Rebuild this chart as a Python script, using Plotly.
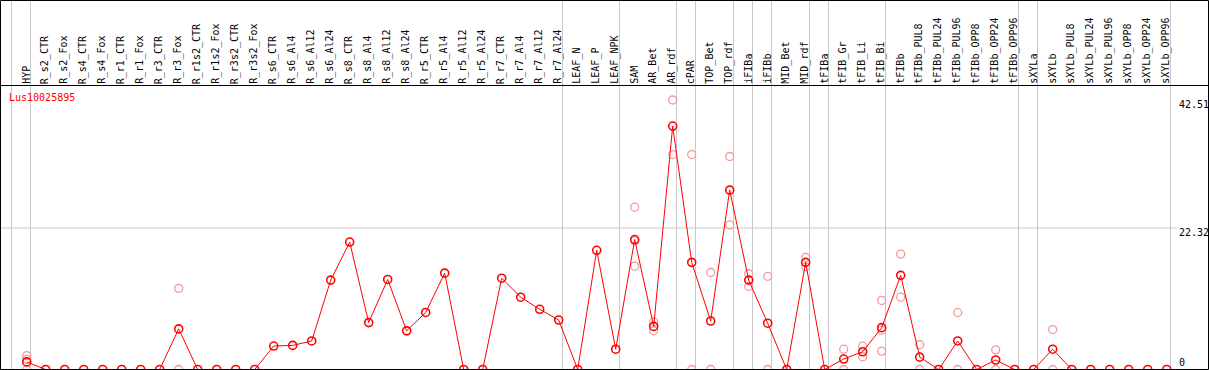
import plotly.graph_objects as go

categories = [
    "HYP", "R_s2_CTR", "R_s2_Fox", "R_s4_CTR", "R_s4_Fox", "R_r1_CTR", "R_r1_Fox",
    "R_r3_CTR", "R_r3_Fox", "R_r1s2_CTR", "R_r1s2_Fox", "R_r3s2_CTR", "R_r3s2_Fox",
    "R_s6_CTR", "R_s6_Al4", "R_s6_Al12", "R_s6_Al24", "R_s8_CTR", "R_s8_Al4",
    "R_s8_Al12", "R_s8_Al24", "R_r5_CTR", "R_r5_Al4", "R_r5_Al12", "R_r5_Al24",
    "R_r7_CTR", "R_r7_Al4", "R_r7_Al12", "R_r7_Al24", "LEAF_N", "LEAF_P", "LEAF_NPK",
    "SAM", "AR_Bet", "AR_rdf", "cPAR", "TOP_Bet", "TOP_rdf", "iFIBa", "iFIBb",
    "MID_Bet", "MID_rdf", "tFIBa", "tFIB_Gr", "tFIB_Li", "tFIB_Bi", "tFIBb",
    "tFIBb_PUL8", "tFIBb_PUL24", "tFIBb_PUL96", "tFIBb_OPP8", "tFIBb_OPP24", "tFIBb_OPP96",
    "sXYLa", "sXYLb", "sXYLb_PUL8", "sXYLb_PUL24", "sXYLb_PUL96", "sXYLb_OPP8",
    "sXYLb_OPP24", "sXYLb_OPP96",
]

# first category of each column group (vertical separators)
group_starts = ["HYP", "R_s2_CTR", "LEAF_N", "SAM", "cPAR", "TOP_Bet", "iFIBa", "iFIBb",
                "MID_Bet", "tFIBa", "tFIB_Gr", "tFIBb", "sXYLa", "sXYLb"]

gene = "Lus10025895"

means = [
    1.2, 0, 0, 0, 0, 0, 0, 0, 6.4, 0, 0, 0, 0, 3.7, 3.8, 4.5, 14.1,
    20.1, 7.4, 14.2, 6.1, 9.0, 15.2, 0, 0, 14.4, 11.4, 9.5, 7.8,
    0, 18.8, 3.2, 20.5, 6.8, 38.4, 16.9, 7.65, 28.3, 14.1, 7.3, 0, 16.9, 0,
    1.65, 2.8, 6.6, 14.85, 1.95, 0, 4.5, 0, 1.5, 0, 0, 3.2, 0, 0, 0, 0, 0, 0,
]

# replicate values (None where no replicate is shown)
rep_cols = ["HYP", "R_r3_Fox", "SAM", "AR_Bet", "AR_rdf", "cPAR", "TOP_Bet", "TOP_rdf",
            "iFIBa", "iFIBb", "MID_rdf", "tFIB_Gr", "tFIB_Li", "tFIB_Bi", "tFIBb",
            "tFIBb_PUL8", "tFIBb_PUL96", "tFIBb_OPP24", "sXYLb"]
rep_1 = [2.2, 12.8, 25.6, 7.5, 42.51, 33.9, 15.3, 33.6, 15.1, 14.7, 17.7, 3.2, 3.7, 10.9, 18.2, 3.9, 9.0, 3.1, 6.3]
rep_2 = [1.6, 0, 20.3, 6.1, 33.9, 0, 0, 22.8, 13.1, 0, 16.2, 0, 2.0, 6.2, 11.4, 0, 0, 0, 0]
rep_3 = [0, None, 16.3, None, None, None, None, None, None, None, None, None, None, 2.9, None, None, None, None, None]

tick_vals = [42.51, 22.32, 0]
tick_text = ["42.51", "22.32", "0"]
grid_y = [22.32]

W, H = 1209, 370
PX_PER_X = 19.0
X0 = -26.7 / PX_PER_X
X1 = X0 + W / PX_PER_X
Y_ZERO_PX = 369.5
PX_PER_Y = 6.34
Y0 = -(H - Y_ZERO_PX) / PX_PER_Y
Y1 = Y0 + H / PX_PER_Y


def ypx(px):
    return (Y_ZERO_PX - px) / PX_PER_Y


FONT = "DejaVu Sans Mono"
idx = {c: i for i, c in enumerate(categories)}

fig = go.Figure()

rx, ry = [], []
for reps in (rep_1, rep_2, rep_3):
    for c, v in zip(rep_cols, reps):
        if v is not None:
            rx.append(idx[c])
            ry.append(v)

fig.add_trace(go.Scatter(
    x=rx, y=ry, mode="markers",
    marker=dict(symbol="circle-open", size=8, color="#f09a9a", line=dict(width=1.3, color="#f09a9a")),
    hoverinfo="skip",
))

fig.add_trace(go.Scatter(
    x=list(range(len(categories))), y=means, mode="lines+markers",
    line=dict(color="#ff0000", width=1),
    marker=dict(symbol="circle-open", size=8, color="#ff0000", line=dict(width=1.6, color="#ff0000")),
    text=categories, hoverinfo="text+y",
))

shapes = []
bounds = [idx[c] for c in group_starts] + [len(categories)]
for k in bounds:
    shapes.append(dict(type="line", xref="x", yref="paper", x0=k - 0.8, x1=k - 0.8, y0=0, y1=1,
                       line=dict(color="#c8c8c8", width=1), layer="below"))
for gy in grid_y:
    shapes.append(dict(type="line", xref="paper", yref="y", x0=0, x1=1177 / W, y0=gy, y1=gy,
                       line=dict(color="#c8c8c8", width=1), layer="below"))
# frame and header separator
shapes.append(dict(type="rect", xref="paper", yref="paper", x0=0.5 / W, x1=1208.5 / W,
                   y0=1 - 369.5 / H, y1=1 - 0.5 / H, line=dict(color="black", width=1)))
shapes.append(dict(type="line", xref="paper", yref="paper", x0=0, x1=1, y0=1 - 85.5 / H, y1=1 - 85.5 / H,
                   line=dict(color="black", width=1)))

annotations = []
for i, c in enumerate(categories):
    annotations.append(dict(x=i, y=ypx(84), xref="x", yref="y", text=c, showarrow=False,
                            textangle=-90, xanchor="center", yanchor="bottom", xshift=-1,
                            borderpad=0, borderwidth=0,
                            font=dict(family=FONT, size=10, color="black")))
annotations.append(dict(x=9 / W, y=ypx(97), xref="paper", yref="y", text=gene, showarrow=False,
                        xanchor="left", yanchor="middle", borderpad=0, borderwidth=0,
                        font=dict(family=FONT, size=10, color="#ff0000")))
for v, t in zip(tick_vals, tick_text):
    if v == 0:
        annotations.append(dict(x=1178.5 / W, y=v, xref="paper", yref="y", text=t, showarrow=False,
                                xanchor="left", yanchor="middle", yshift=7.5, borderpad=0, borderwidth=0,
                                font=dict(family=FONT, size=10, color="black")))
    else:
        annotations.append(dict(x=1178.5 / W, y=v, xref="paper", yref="y", text=t, showarrow=False,
                                xanchor="left", yanchor="top", yshift=1, borderpad=0, borderwidth=0,
                                font=dict(family=FONT, size=10, color="black")))

fig.update_layout(
    width=W, height=H, autosize=False,
    margin=dict(l=0, r=0, t=0, b=0, pad=0),
    paper_bgcolor="white", plot_bgcolor="white",
    showlegend=False,
    xaxis=dict(range=[X0, X1], visible=False, fixedrange=True),
    yaxis=dict(range=[Y0, Y1], visible=False, fixedrange=True),
    shapes=shapes, annotations=annotations,
)

fig.write_html(
    "out.html",
    config={"displayModeBar": False},
    post_script="document.body.style.margin='0';document.body.style.overflow='hidden';",
)
